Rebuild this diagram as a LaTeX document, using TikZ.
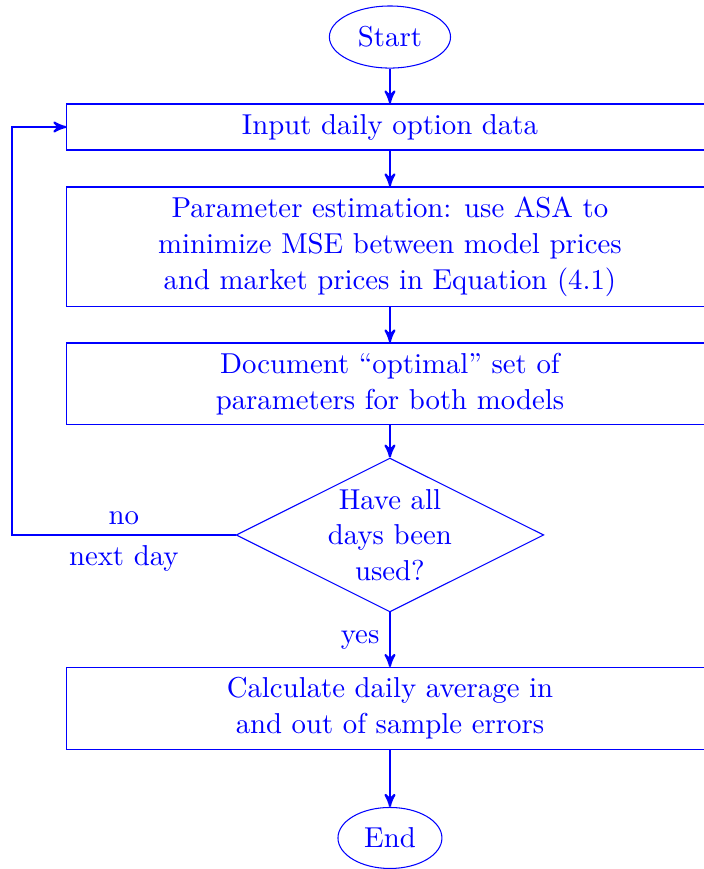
\documentclass[tikz,border=0pt,11pt]{standalone}
\usepackage{amsmath}
\usetikzlibrary{arrows}
\usetikzlibrary{shapes.geometric}
\usetikzlibrary{positioning}
\tikzset{block/.style = {draw=blue, text=blue, rectangle, align=center,
                         minimum width=8.64cm},
         term/.style = {draw=blue, text=blue, ellipse},
         decide/.style = {draw=blue, text=blue, diamond, align=center, aspect=2,
                          inner sep=0pt, minimum width=4.05cm, minimum height=2.01cm},
         flow/.style = {-stealth', thick, blue}}

\begin{document}
\begin{tikzpicture}
    \path [use as bounding box, clip] (-5.214, 0) rectangle (4.198, -11.619);

    \node [term, minimum width=1.62cm, minimum height=0.83cm] (start) at (0, -0.495) {Start};
    \node [block, minimum height=0.615cm] (input) at (0, -1.698) {Input daily option data};
    \node [block, minimum height=1.604cm] (estim) at (0, -3.302)
          {Parameter estimation: use ASA to\\ minimize MSE between model prices\\ and market prices in Equation (4.1)};
    \node [block, minimum height=1.096cm] (record) at (0, -5.134)
          {Document ``optimal'' set of\\ parameters for both models};
    \node [decide] (test) at (0, -7.153) {Have all\\ days been\\ used?};
    \node [block, minimum height=1.096cm] (calc) at (0, -9.473)
          {Calculate daily average in\\ and out of sample errors};
    \node [term, minimum width=1.39cm, minimum height=0.816cm] (stop) at (0, -11.204) {End};

    \coordinate (back) at (-5.054, -7.153);

    \draw [flow] (start) -- (input);
    \draw [flow] (input) -- (estim);
    \draw [flow] (estim) -- (record);
    \draw [flow] (record) -- (test);
    \draw [flow] (test) -- node [left, text=blue] {yes} (calc);
    \draw [flow] (calc) -- (stop);
    \draw [flow] (test.west) -- node [above, text=blue] {no} node [below, text=blue] {next day} (back) |- (input.west);
  \end{tikzpicture}
\end{document}
